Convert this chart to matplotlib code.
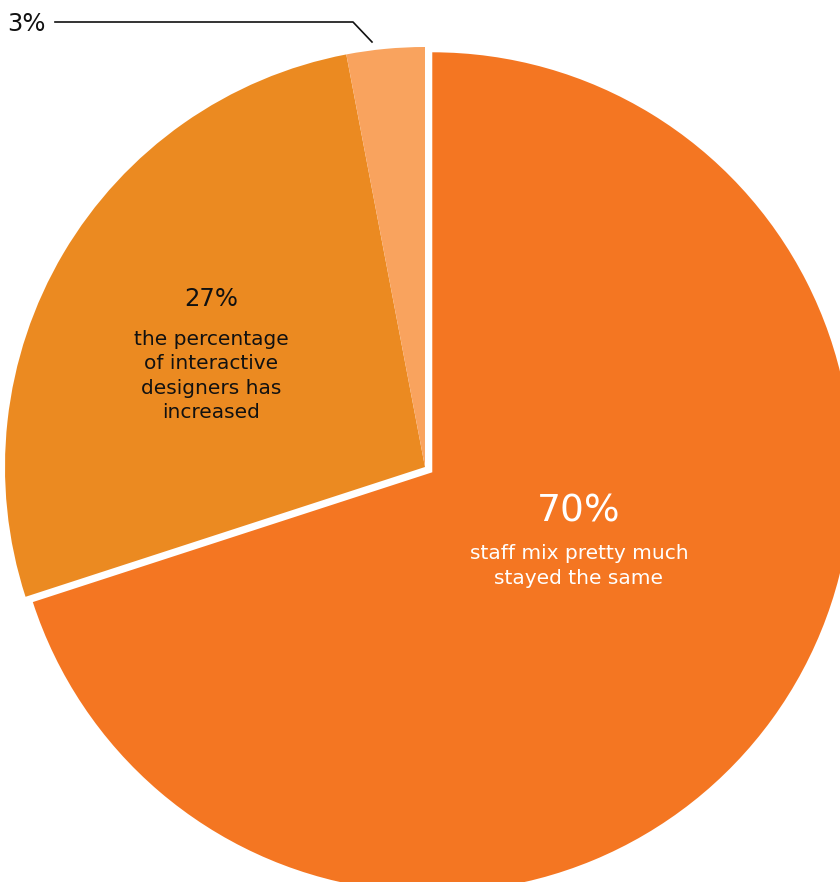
import matplotlib.pyplot as plt

# Survey result: how the staff mix changed
labels = ['staff mix pretty much\nstayed the same',
          'the percentage\nof interactive\ndesigners has\nincreased',
          '']
values = [70, 27, 3]
colors = ['#F47622', '#EB8A21', '#F9A35E']
explode = [9, 0, 0]   # pie() offsets wedges in data units

W, H = 840, 882
fig = plt.figure(figsize=(W / 100, H / 100), dpi=100)
ax = fig.add_axes([0, 0, 1, 1])

cx, cy, r = 425, H - 467, 420
ax.pie(values, colors=colors, explode=explode, startangle=90,
       counterclock=False, center=(cx, cy), radius=r,
       wedgeprops=dict(linewidth=0), frame=True)
ax.set_xlim(0, W)
ax.set_ylim(0, H)
ax.set_aspect('equal')
ax.axis('off')

font = 'DejaVu Sans'

# big slice
ax.text(579, H - 511, f'{values[0]}%', color='white', fontsize=27,
        ha='center', va='center', family=font)
ax.text(579, H - 566, labels[0], color='white', fontsize=14.5,
        ha='center', va='center', linespacing=1.35, family=font)

# middle slice
ax.text(211, H - 299, f'{values[1]}%', color='#111111', fontsize=17.5,
        ha='center', va='center', family=font)
ax.text(211, H - 376, labels[1], color='#111111', fontsize=14.5,
        ha='center', va='center', linespacing=1.35, family=font)

# small slice with leader line
ax.plot([55, 353, 372], [H - 22, H - 22, H - 42], color='#111111', lw=1.2)
ax.text(7, H - 24, f'{values[2]}%', color='#111111', fontsize=17.5,
        ha='left', va='center', family=font)

fig.savefig('out.png', dpi=100)
